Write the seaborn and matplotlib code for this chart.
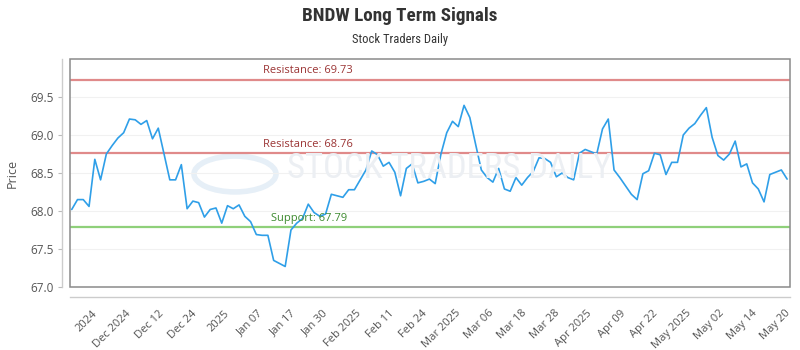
import numpy as np
import pandas as pd
import matplotlib
matplotlib.use("Agg")
import matplotlib.pyplot as plt
from matplotlib.patches import Rectangle, Circle
from matplotlib import font_manager
import seaborn as sns

# ---- data ----
prices = [
    68.02, 68.15, 68.15, 68.06, 68.68, 68.41, 68.75, 68.86, 68.96, 69.03,
    69.21, 69.20, 69.14, 69.19, 68.95, 69.09, 68.75, 68.41, 68.41, 68.61,
    68.03, 68.13, 68.11, 67.92, 68.02, 68.04, 67.84, 68.07, 68.03, 68.08,
    67.93, 67.86, 67.69, 67.68, 67.68, 67.35, 67.31, 67.27, 67.75, 67.84,
    67.90, 68.09, 67.98, 67.93, 67.96, 68.22, 68.20, 68.18, 68.28, 68.28,
    68.41, 68.54, 68.79, 68.74, 68.59, 68.64, 68.51, 68.20, 68.56, 68.62,
    68.37, 68.39, 68.42, 68.36, 68.75, 69.03, 69.18, 69.11, 69.39, 69.23,
    68.88, 68.54, 68.44, 68.38, 68.56, 68.29, 68.26, 68.44, 68.34, 68.44,
    68.52, 68.70, 68.69, 68.64, 68.45, 68.50, 68.44, 68.41, 68.76, 68.81,
    68.78, 68.75, 69.08, 69.21, 68.54, 68.44, 68.33, 68.22, 68.15, 68.49,
    68.53, 68.76, 68.74, 68.48, 68.64, 68.64, 69.00, 69.09, 69.15, 69.26,
    69.36, 68.97, 68.73, 68.67, 68.75, 68.92, 68.58, 68.62, 68.37, 68.29,
    68.12, 68.48, 68.51, 68.54, 68.42,
]
tick_labels = ["2024", "Dec 2024", "Dec 12", "Dec 24", "2025", "Jan 07", "Jan 17",
               "Jan 30", "Feb 2025", "Feb 11", "Feb 24", "Mar 2025", "Mar 06",
               "Mar 18", "Mar 28", "Apr 2025", "Apr 09", "Apr 22", "May 2025",
               "May 02", "May 14", "May 20"]
y_ticks = [67.0, 67.5, 68.0, 68.5, 69.0, 69.5]
resistance_levels = [69.73, 68.76]
support_levels = [67.79]

df = pd.DataFrame({"day": np.arange(len(prices)), "price": prices})

# ---- style ----
sns.set_theme(style="white")
plt.rcParams["font.family"] = ["Open Sans", "DejaVu Sans"]

# pick a narrow font for the title if one is installed
_names = {f.name for f in font_manager.fontManager.ttflist}
_narrow = None
for cand in ["Liberation Sans Narrow", "Roboto Condensed", "Open Sans Condensed",
             "Noto Sans Condensed", "DejaVu Sans Condensed"]:
    if cand in _names:
        _narrow = cand
        break
if _narrow:
    title_fam, title_size, sub_size, wm_size = [_narrow, "DejaVu Sans"], 13.8, 9, 25
else:
    title_fam, title_size, sub_size, wm_size = ["Roboto", "DejaVu Sans"], 11, 7.5, 20

fig = plt.figure(figsize=(8, 3.5), dpi=100)
ax = fig.add_axes([70 / 800, 1 - 287 / 350, 720 / 800, 228 / 350])

# spines first (repositioning a spine resets the ticks)
for s in ["top", "right"]:
    ax.spines[s].set_visible(False)
ax.spines["left"].set_position(("outward", 6))
ax.spines["bottom"].set_position(("outward", 7))
ax.spines["left"].set_color("#cccccc")
ax.spines["bottom"].set_color("#cccccc")
ax.spines["left"].set_linewidth(1)
ax.spines["bottom"].set_linewidth(1)

# watermark
ax.add_patch(Circle((235 / 800, 176 / 350), 41 / 800, transform=fig.transFigure,
                    fill=False, edgecolor="#e6eff7", lw=4, zorder=0))
fig.text(449 / 800, 182 / 350, "STOCK TRADERS DAILY", ha="center", va="center",
         fontsize=wm_size, color="#eceff3", zorder=0, family=title_fam,
         fontstretch="condensed")

sns.lineplot(data=df, x="day", y="price", ax=ax, color="#2f9fe8", linewidth=1.2, zorder=3)

for lvl in resistance_levels:
    ax.axhline(lvl, color="#e08a8a", lw=1.6, zorder=2)
    ax.text((263 - 70) / 720, lvl + 0.04, f"Resistance: {lvl:.2f}",
            transform=ax.get_yaxis_transform(), color="#9b3434", fontsize=8,
            va="bottom", ha="left")
for lvl in support_levels:
    ax.axhline(lvl, color="#8fd07a", lw=1.6, zorder=2)
    ax.text((271 - 70) / 720, lvl + 0.04, f"Support: {lvl:.2f}",
            transform=ax.get_yaxis_transform(), color="#3d8a2f", fontsize=8,
            va="bottom", ha="left")

ax.grid(axis="y", color="#f1f1f1", lw=0.8, zorder=0)
ax.grid(axis="x", visible=False)
ax.set_xlim(-0.3, len(prices) - 0.5)
ax.set_ylim(67.0, 70.0)
ax.set_yticks(y_ticks)
ax.set_yticklabels([f"{v:.1f}" for v in y_ticks])
ax.set_xticks(np.linspace(3.5, len(prices) - 1.4, len(tick_labels)))
ax.tick_params(axis="x", length=0, pad=8, labelsize=8, labelcolor="#555555")
ax.tick_params(axis="y", length=3, width=0.8, color="#bbbbbb", pad=3, labelsize=8.5,
               labelcolor="#555555", left=True)
ax.set_xticklabels(tick_labels, rotation=45, ha="right", va="top",
                   rotation_mode="anchor")

ax.add_patch(Rectangle((0, 0), 1, 1, transform=ax.transAxes, fill=False,
                       edgecolor="#8a8a8a", lw=1.1, clip_on=False, zorder=4))

ax.set_xlabel("")
ax.set_ylabel("Price", fontsize=9, color="#555555", labelpad=8)

fig.text(0.5, 1 - 16 / 350, "BNDW Long Term Signals", ha="center", va="center",
         fontsize=title_size, weight="bold", color="#333333", family=title_fam,
         fontstretch="condensed")
fig.text(0.5, 1 - 40 / 350, "Stock Traders Daily", ha="center", va="center",
         fontsize=sub_size, color="#333333", family=title_fam, fontstretch="condensed")

fig.savefig("out.png", dpi=100, facecolor="white")
